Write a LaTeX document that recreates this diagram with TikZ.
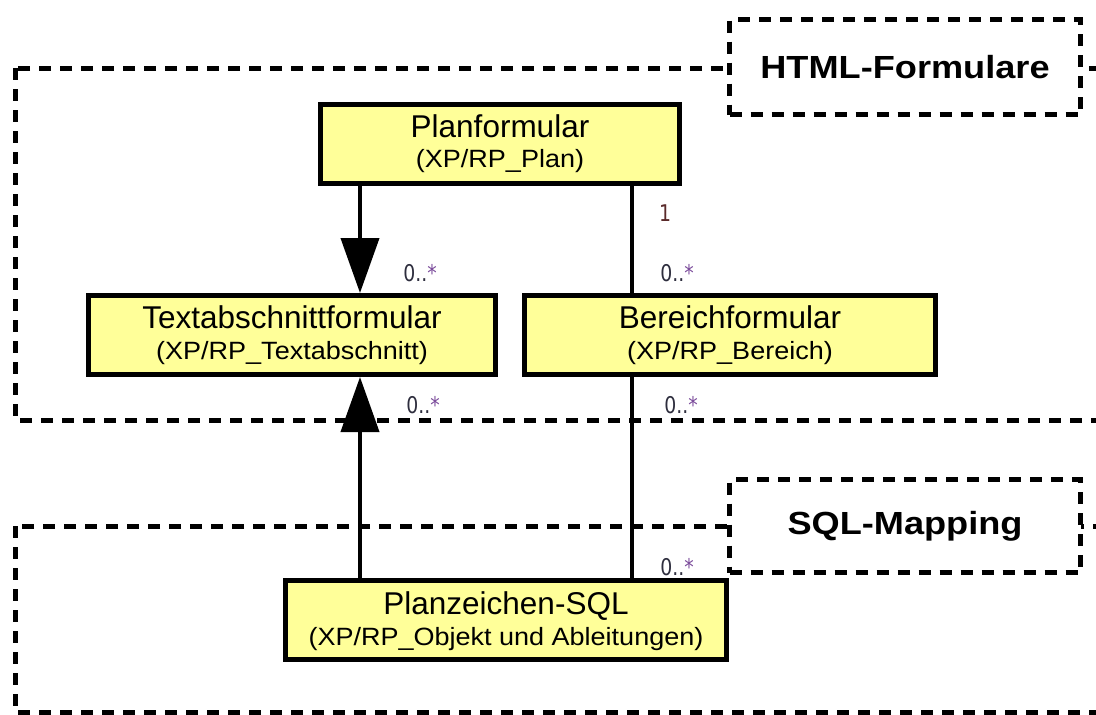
\documentclass[tikz,border=0pt]{standalone}
\usepackage{fontspec}
\setmainfont{Liberation Sans}
\newfontfamily\subfont[FakeStretch=1.08]{Liberation Sans}
\newfontfamily\lblfont[FakeStretch=1.13]{Liberation Sans}
\newfontfamily\multfont[FakeStretch=0.82]{DejaVu Sans}
\usetikzlibrary{arrows.meta,calc}
\definecolor{boxyellow}{HTML}{FFFF99}
\definecolor{multgray}{HTML}{2E2E3E}
\definecolor{multstar}{HTML}{7A4A9A}
\definecolor{onecol}{HTML}{5A2A2A}
\tikzset{
  frameline/.style={line width=5pt, dash pattern=on 12pt off 9pt},
  labelbox/.style={frameline, draw, fill=white, inner sep=0pt, minimum width=351pt, minimum height=95pt, font=\lblfont\fontsize{32}{36}\selectfont\bfseries},
  classbox/.style={draw, line width=5pt, fill=boxyellow, inner sep=0pt, minimum height=79pt},
  titletext/.style={anchor=base, inner sep=0pt, font=\fontsize{31.5}{34}\selectfont},
  subtext/.style={anchor=base, inner sep=0pt, font=\subfont\fontsize{25}{30}\selectfont},
  conn/.style={line width=4pt},
  gen/.style={conn, -{Triangle[length=55pt, width=38pt]}},
  mult/.style={inner sep=0pt, text=multgray, font=\multfont\fontsize{23}{26}\selectfont},
}
\newcommand{\many}{0..\textcolor{multstar}{*}}
\begin{document}
\begin{tikzpicture}[x=1pt, y=-1pt]
\useasboundingbox (0,0) rectangle (1096,715);
\begin{scope}
\clip (0,0) rectangle (1096,715);
% frames
\draw[frameline] (15,68) rectangle (1130,420);
\draw[frameline] (15,526) rectangle (1130,712);
\node[labelbox] (html) at (905,67) {HTML-Formulare};
\node[labelbox, minimum height=93pt] (sql) at (905,526) {SQL-Mapping};
% classes
\node[classbox, minimum width=359pt] (plan) at (500,144) {};
\node[titletext] (plan-t) at ($(plan.north)+(0,35)$) {Planformular};
\node[subtext] (plan-s) at ($(plan.north)+(0,65)$) {(XP/RP\_Plan)};
\node[classbox, minimum width=407pt] (text) at (292,335) {};
\node[titletext] (text-t) at ($(text.north)+(0,35)$) {Textabschnittformular};
\node[subtext] (text-s) at ($(text.north)+(0,66)$) {(XP/RP\_Textabschnitt)};
\node[classbox, minimum width=411pt] (ber) at (730,335) {};
\node[titletext] (ber-t) at ($(ber.north)+(0,35)$) {Bereichformular};
\node[subtext] (ber-s) at ($(ber.north)+(0,66)$) {(XP/RP\_Bereich)};
\node[classbox, minimum width=441pt] (pz) at (506,620) {};
\node[titletext] (pz-t) at ($(pz.north)+(0,36)$) {Planzeichen-SQL};
\node[subtext] (pz-s) at ($(pz.north)+(0,67)$) {(XP/RP\_Objekt und Ableitungen)};
% connector guides
\coordinate (xl) at (360,0);
\coordinate (xr) at (632,0);
\draw[gen] (plan.south -| xl) -- (text.north -| xl);
\draw[conn] (plan.south -| xr) -- (ber.north -| xr);
\draw[gen] (pz.north -| xl) -- (text.south -| xl);
\draw[conn] (pz.north -| xr) -- (ber.south -| xr);
% multiplicities
\node[mult, text=onecol] (m1) at (665,213) {1};
\node[mult] (m2) at (420,273) {\many};
\node[mult] (m3) at (677,273) {\many};
\node[mult] (m4) at (423,405) {\many};
\node[mult] (m5) at (681,405) {\many};
\node[mult] (m6) at (677,567) {\many};
\end{scope}
\end{tikzpicture}
\end{document}
